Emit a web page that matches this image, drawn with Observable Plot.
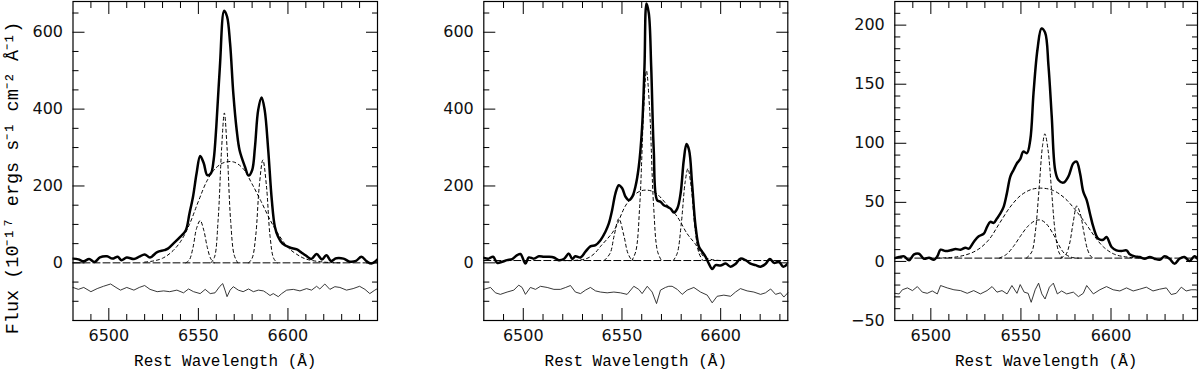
<!DOCTYPE html>
<html><head><meta charset="utf-8">
<script src="https://cdn.jsdelivr.net/npm/d3@7"></script>
<script src="https://cdn.jsdelivr.net/npm/@observablehq/plot@0.6"></script>
<style>
html,body{margin:0;padding:0;background:#fff;}
#wrap{position:relative;width:1200px;height:371px;overflow:hidden;background:#fff;}
#wrap svg{position:absolute;top:0;overflow:visible;}
</style></head><body><div id="wrap"></div>
<script>
// ---------- texts ----------
const xLabel = "Rest Wavelength (Å)";
const yLabel = "Flux (10⁻¹⁷ ergs s⁻¹ cm⁻² Å⁻¹)";

// ---------- ticks ----------
const xMajorTicks = [6500, 6550, 6600];
const yMajorTicks12 = [0, 200, 400, 600];
const yMajorTicks3 = [-50, 0, 50, 100, 150, 200];

// ---------- panel 1 ----------
const p1Spectrum = [[6480,11],[6483,9],[6486,4],[6489,10],[6492,2],[6495,14],[6499,17],[6502,11],[6505,16],[6507,7],[6510,14],[6514,10],[6517,16],[6520,22],[6523,14],[6527,28],[6531,33],[6533,37],[6536,50],[6540,68],[6543,85],[6545,128],[6547,172],[6549,233],[6551,278],[6553,259],[6555,228],[6557,233],[6558.5,267],[6560,354],[6562,510],[6564.4,656],[6566,641],[6567.7,571],[6569.5,441],[6571.4,345],[6573,293],[6576,250],[6578,227],[6580,241],[6581.6,302],[6583.4,398],[6585.3,430],[6587,398],[6589,293],[6591,163],[6592.7,94],[6594.5,68],[6597,50],[6601,40],[6605,35],[6607.5,27],[6610,19],[6613,10],[6616,23],[6619,9],[6621.5,20],[6624,5],[6627,12],[6631,11],[6634.5,3],[6638,5],[6641,16],[6644,4],[6646.6,-2],[6650,9]];
const p1Residual = [[6480,-64],[6483,-69],[6486,-64],[6490,-75],[6493.5,-67],[6497,-61],[6501,-55],[6504,-64],[6506.5,-71],[6510,-64],[6514,-71],[6517,-64],[6520,-59],[6523,-69],[6527,-75],[6530.6,-73],[6534,-75],[6538,-71],[6541.7,-78],[6544.5,-68],[6547.3,-75],[6551,-80],[6553.8,-69],[6556.6,-80],[6559.3,-78],[6562,-61],[6563.6,-54],[6565,-73],[6566,-88],[6567.7,-71],[6569.5,-62],[6572.3,-71],[6575,-75],[6578,-68],[6580.7,-75],[6583.5,-71],[6586.3,-73],[6588,-78],[6590,-85],[6591.8,-80],[6594.6,-88],[6596.5,-80],[6599.3,-71],[6603,-69],[6606.7,-73],[6610.4,-67],[6613.2,-71],[6616,-61],[6617.8,-68],[6620.6,-55],[6623.4,-69],[6626.2,-62],[6629,-64],[6632.7,-71],[6636.4,-67],[6640,-61],[6643,-69],[6645.7,-80],[6648.5,-71],[6650,-67]];
const p1Broad = [[6520,2],[6525,5],[6530,12],[6535,28],[6540,55],[6545,100],[6550,160],[6555,215],[6560,248],[6565,262],[6570,262],[6575,245],[6580,205],[6585,160],[6590,112],[6595,72],[6600,40],[6605,22],[6610,10],[6620,2],[6630,0]];
const p1Narrow6548 = [[6543,0],[6545,8],[6547,40],[6549,90],[6551,110],[6553,85],[6555,40],[6557,10],[6559,0]];
const p1NarrowHa = [[6557,0],[6559,15],[6561,110],[6563,300],[6564.5,390],[6566,300],[6568,110],[6570,20],[6572,0]];
const p1Narrow6584 = [[6578,0],[6580,12],[6582,70],[6584,200],[6586,268],[6588,200],[6590,70],[6592,12],[6594,0]];
const p1Continuum = [[6480,0],[6650,0]];

// ---------- panel 2 ----------
const p2Spectrum = [[6480,13],[6482.5,11],[6484.7,16],[6486.8,0],[6489.3,3],[6491.8,7],[6494.4,10],[6496.9,20],[6498.6,23],[6501.1,-2],[6502.8,14],[6505.3,11],[6507.9,17],[6510.4,16],[6512.9,16],[6515.5,14],[6518,7],[6520.5,10],[6523.1,24],[6524.8,10],[6526.4,17],[6529,14],[6531.5,29],[6534,43],[6536.6,46],[6539.1,59],[6541.6,81],[6543.3,102],[6545,137],[6546.7,181],[6548.4,202],[6550.1,194],[6551.8,172],[6553.5,163],[6555.2,172],[6556.8,198],[6558.5,250],[6560.2,354],[6561.4,510],[6562.4,675],[6563.6,649],[6564.8,510],[6566.1,293],[6567.8,163],[6569.5,159],[6571.2,150],[6572.9,146],[6574.6,141],[6576.3,131],[6578,141],[6579.7,181],[6581.3,267],[6582.7,309],[6584,293],[6585.5,207],[6587.3,94],[6589,42],[6590.6,29],[6592.3,16],[6594,-2],[6595.7,-16],[6597.4,-6],[6599.9,-7],[6602.5,-2],[6605,-10],[6607.5,-3],[6610,11],[6612.6,7],[6615.1,-2],[6617.7,-6],[6620.2,-10],[6622.7,-3],[6624.9,10],[6627,0],[6629.5,3],[6631.7,-10],[6634,-2]];
const p2Residual = [[6480,-69],[6483.4,-64],[6485.9,-78],[6488.4,-82],[6491.8,-76],[6495.2,-71],[6497.7,-58],[6499.4,-64],[6501.1,-82],[6503.6,-64],[6506.2,-69],[6508.7,-61],[6512.1,-64],[6515.5,-69],[6518.8,-69],[6521.5,-64],[6523.9,-59],[6526.4,-76],[6529,-80],[6531.5,-71],[6534,-64],[6536.6,-73],[6539.1,-76],[6542.5,-78],[6545.9,-76],[6549.2,-78],[6552.6,-82],[6556,-61],[6558.5,-69],[6560.2,-80],[6562.8,-61],[6565.3,-76],[6567.5,-106],[6569.5,-71],[6572,-64],[6573.7,-61],[6575.4,-61],[6578,-69],[6580.5,-82],[6583,-71],[6586.4,-64],[6589.8,-76],[6593.2,-84],[6595.7,-104],[6598.2,-87],[6601.6,-84],[6605,-87],[6607.5,-76],[6610,-67],[6613.4,-73],[6616.8,-76],[6620.2,-82],[6622.7,-78],[6625.3,-68],[6627.8,-82],[6630.3,-78],[6632,-89],[6634,-78]];
const p2Broad = [[6520,6],[6525,6],[6532,11],[6536,24],[6539,42],[6546,85],[6552.6,155],[6559.4,187],[6566,185],[6573,150],[6578,120],[6583,76],[6587,50],[6591.5,16],[6595,9],[6600,6],[6605,6]];
const p2Narrow6548 = [[6541,6],[6544,25],[6546,70],[6548.4,115],[6551,70],[6553,25],[6555,8],[6557,6]];
const p2NarrowHa = [[6555,6],[6557,30],[6559,150],[6561,400],[6562.4,500],[6564,400],[6566,150],[6568,30],[6570,6]];
const p2Narrow6584 = [[6576,6],[6578,25],[6580,100],[6582,210],[6583.4,245],[6585,200],[6587,90],[6589,25],[6591,6]];
const p2Continuum = [[6480,6],[6634,6]];

// ---------- panel 3 ----------
const p3Spectrum = [[6480,2.8],[6482.4,3.7],[6485.2,4.3],[6487.9,0.9],[6490.7,6],[6493.4,6.5],[6496.2,2.3],[6499,3.1],[6501.7,1.4],[6503.6,4.3],[6505.4,9.9],[6508.2,8.8],[6511,9.4],[6513.7,10.5],[6516.5,9.9],[6519.2,11.6],[6521.1,10.8],[6523.8,16.5],[6526.6,21.3],[6529.4,23.5],[6531.2,29.2],[6533,33.5],[6534.9,32.6],[6536.7,36.3],[6538.6,40.6],[6540.4,46.2],[6542.2,57.6],[6544.1,71.8],[6545.9,77.4],[6547.8,83.1],[6549.6,86.5],[6551.3,93],[6553.3,91.6],[6555.2,103],[6557,142.7],[6559.2,179.6],[6561.4,197.2],[6563.4,193.8],[6565.3,165.4],[6567.1,122.8],[6569,77.4],[6570.8,68.9],[6573.6,66.7],[6576.3,71.8],[6579.1,83.1],[6580.9,84.5],[6582.8,74.6],[6584.6,59],[6586.5,51.9],[6588.3,40.6],[6590.2,29.2],[6592.9,19.3],[6595.7,18.4],[6597.5,20.7],[6600.3,12.2],[6603,9.4],[6605.8,8.8],[6608.6,9.4],[6610.4,6],[6613.2,4.3],[6615.9,3.7],[6618.7,2.3],[6621.5,3.7],[6624.2,2.3],[6627,1.4],[6629.8,4.3],[6632.5,2.3],[6635.3,-2],[6638,2.3],[6640.8,3.7],[6643.6,0.3],[6646.3,4.3],[6648,2.3]];
const p3Residual = [[6480,-27],[6482.4,-27.5],[6484.2,-24],[6487,-22.4],[6489.8,-24.7],[6492.5,-21.3],[6495.3,-26],[6498,-27],[6500.8,-25],[6503.6,-27.5],[6505.4,-20.4],[6509.1,-22.4],[6512.8,-24],[6516.5,-24.7],[6520.2,-27],[6523.8,-24.7],[6527.5,-27.5],[6531.2,-24.7],[6534,-21.3],[6536.7,-26],[6539.5,-24.7],[6542.3,-27.5],[6545,-20.4],[6547.8,-27],[6549.6,-19.6],[6551.8,-26],[6554,-27],[6555.7,-34.6],[6557.9,-24],[6559.8,-18.4],[6561.6,-27.5],[6563.4,-31.8],[6565.8,-21.8],[6568,-18.4],[6570.2,-27.5],[6572.6,-25],[6575.4,-27.5],[6579.1,-26],[6581.9,-29.8],[6584.6,-27],[6586.5,-20.4],[6590.2,-27.5],[6593.8,-24],[6597.5,-21.3],[6601.2,-24],[6604.9,-25],[6608.6,-22.4],[6612.3,-25],[6615.9,-23.5],[6619.6,-21.8],[6623.3,-25],[6627,-23.5],[6630.7,-22.4],[6633.4,-28],[6636.2,-27],[6639,-21.8],[6641.7,-25],[6644.5,-24],[6647.3,-24],[6648,-25]];
const p3Broad = [[6500,2.8],[6515,4],[6525,9],[6532,18],[6538,32],[6544,46],[6550,56],[6556,61],[6562,62],[6568,60],[6574,54],[6580,44],[6586,32],[6591,21],[6596,12],[6602,6],[6610,3.5],[6620,2.8]];
const p3Medium = [[6538,2.8],[6542,6],[6546,13],[6550,22],[6554,30],[6558,34.5],[6561,35],[6564,32],[6568,23],[6571,14],[6574,7],[6578,3.5],[6582,2.8]];
const p3NarrowHa = [[6553,2.8],[6556,8],[6558,25],[6560,60],[6562,98],[6563.3,108],[6565,95],[6567,60],[6569,25],[6571,8],[6573,3]];
const p3Narrow6584 = [[6572,2.8],[6575,6],[6577,15],[6579,33],[6581,47],[6583,40],[6585,24],[6587,10],[6589,4],[6591,2.8]];
const p3Continuum = [[6480,2.8],[6648,2.8]];

// ---------- drawing ----------
const pts = a => a.map(([x, y]) => ({x, y}));
const fmt = d => d < 0 ? "\u2212" + Math.abs(d) : String(d);
const tickFont = {fontFamily: "DejaVu Sans", fontSize: 16, fill: "#111"};

function panel(cfg) {
  const xMinor = d3.range(cfg.xDomain[0] + 10, cfg.xDomain[1], 10).filter(v => !xMajorTicks.includes(v));
  const yMinor = d3.range(cfg.yDomain[0], cfg.yDomain[1], cfg.yStep).filter(v => !cfg.yMajor.includes(v));
  const marks = [
    Plot.line(pts(cfg.residual), {x: "x", y: "y", stroke: "#222", strokeWidth: 0.9}),
    Plot.line(pts(cfg.continuum), {x: "x", y: "y", stroke: "#000", strokeWidth: 1, strokeDasharray: "7,3"}),
    ...cfg.components.map(c => Plot.line(pts(c), {x: "x", y: "y", stroke: "#000", strokeWidth: 1, strokeDasharray: "3,3", curve: "catmull-rom"})),
    Plot.line(pts(cfg.spectrum), {x: "x", y: "y", stroke: "#000", strokeWidth: 2.5, curve: "catmull-rom", clip: true}),
    Plot.frame({stroke: "#000", strokeWidth: 1.2}),
    // inward ticks
    Plot.axisX(xMajorTicks, {anchor: "bottom", tickSize: -12, text: null, label: null, stroke: "#000"}),
    Plot.axisX(xMinor, {anchor: "bottom", tickSize: -6, text: null, label: null, stroke: "#000"}),
    Plot.axisX(xMajorTicks, {anchor: "top", tickSize: -12, text: null, label: null, stroke: "#000"}),
    Plot.axisX(xMinor, {anchor: "top", tickSize: -6, text: null, label: null, stroke: "#000"}),
    Plot.axisY(cfg.yMajor, {anchor: "left", tickSize: -12, text: null, label: null, stroke: "#000"}),
    Plot.axisY(yMinor, {anchor: "left", tickSize: -6, text: null, label: null, stroke: "#000"}),
    Plot.axisY(cfg.yMajor, {anchor: "right", tickSize: -12, text: null, label: null, stroke: "#000"}),
    Plot.axisY(yMinor, {anchor: "right", tickSize: -6, text: null, label: null, stroke: "#000"}),
    // tick labels
    Plot.axisX(xMajorTicks, {anchor: "bottom", tickSize: 0, tickPadding: 9, label: null, tickFormat: fmt, ...tickFont}),
    Plot.axisY(cfg.yMajor, {anchor: "left", tickSize: 0, tickPadding: 10, label: null, tickFormat: fmt, ...tickFont}),
    // axis titles
    Plot.text([xLabel], {text: d => d, frameAnchor: "bottom", dy: 45, lineAnchor: "bottom", textAnchor: "middle", fontFamily: "Liberation Mono", fontSize: 16, fill: "#000"})
  ];
  if (cfg.yTitle) {
    marks.push(Plot.text([yLabel], {text: d => d, frameAnchor: "left", textAnchor: "middle", lineAnchor: "middle", dx: -61, dy: 17, rotate: -90, fontFamily: "Liberation Mono", fontSize: 18.5, fill: "#000"}));
  }
  const svg = Plot.plot({
    width: cfg.width, height: 371,
    marginLeft: cfg.ml, marginRight: cfg.mr, marginTop: 1, marginBottom: 51,
    x: {domain: cfg.xDomain},
    y: {domain: cfg.yDomain},
    style: {fontFamily: "DejaVu Sans", fontSize: "16px", background: "transparent", overflow: "visible"},
    marks
  });
  svg.style.left = cfg.left + "px";
  document.getElementById("wrap").appendChild(svg);
}

panel({left: 0, width: 390, ml: 72.5, mr: 13, xDomain: [6480, 6650], yDomain: [-150, 680], yStep: 50, yMajor: yMajorTicks12,
  spectrum: p1Spectrum, residual: p1Residual, continuum: p1Continuum, components: [p1Broad, p1Narrow6548, p1NarrowHa, p1Narrow6584], yTitle: true});
panel({left: 400, width: 400, ml: 83.3, mr: 12.7, xDomain: [6480, 6634], yDomain: [-150, 680], yStep: 50, yMajor: yMajorTicks12,
  spectrum: p2Spectrum, residual: p2Residual, continuum: p2Continuum, components: [p2Broad, p2Narrow6548, p2NarrowHa, p2Narrow6584]});
panel({left: 800, width: 400, ml: 94.3, mr: 3, xDomain: [6480, 6648], yDomain: [-50, 220], yStep: 10, yMajor: yMajorTicks3,
  spectrum: p3Spectrum, residual: p3Residual, continuum: p3Continuum, components: [p3Broad, p3Medium, p3NarrowHa, p3Narrow6584]});
</script></body></html>
